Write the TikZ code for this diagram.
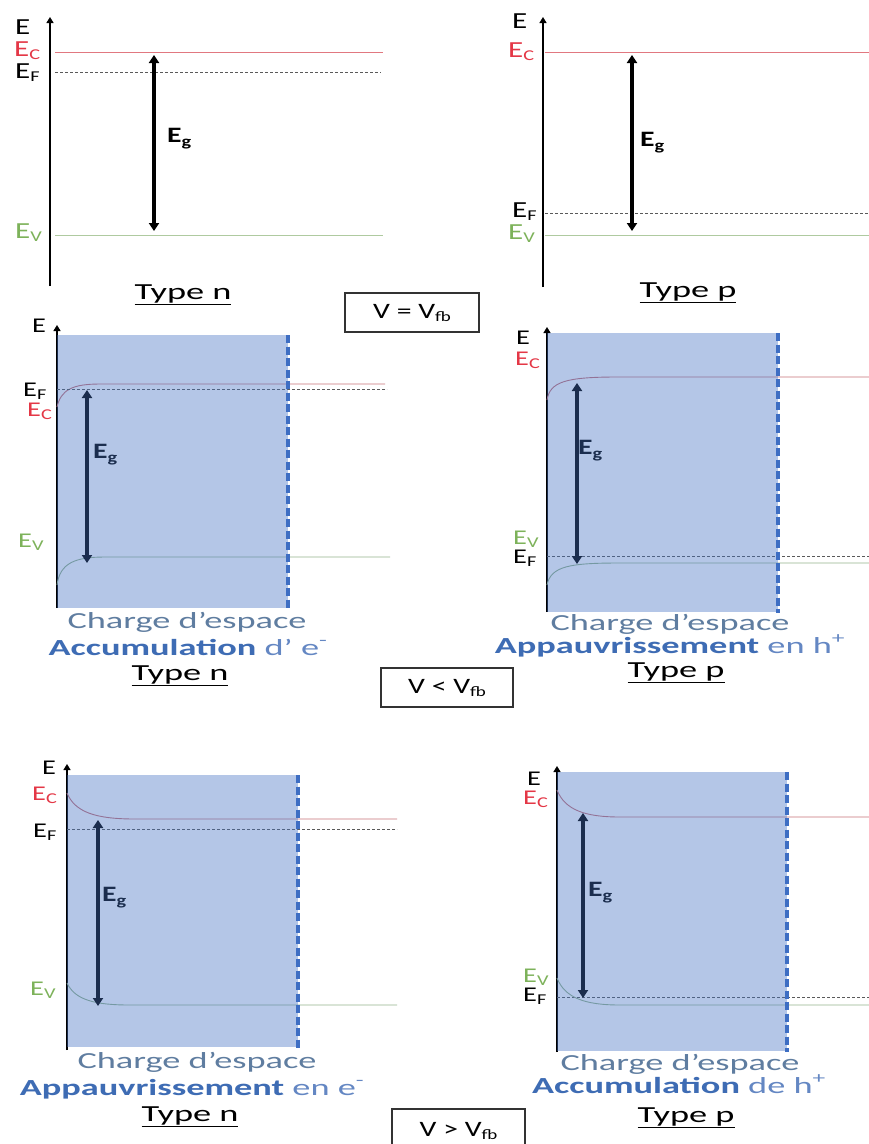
\documentclass[tikz,border=0pt]{standalone}
\usepackage{fontspec}
\usepackage{graphicx}
\setmainfont{Carlito}[FakeStretch=1.35]
\newfontfamily\wide{Carlito}[FakeStretch=1.58]
\usetikzlibrary{arrows.meta}
\definecolor{ecc}{RGB}{228,55,70}
\definecolor{evc}{RGB}{125,178,90}
\definecolor{eclinetop}{RGB}{225,120,128}
\definecolor{evlinetop}{RGB}{175,202,160}
\definecolor{ecline}{RGB}{200,115,120}
\definecolor{evline}{RGB}{150,180,140}
\definecolor{scblue}{RGB}{68,114,196}
\definecolor{dashblue}{RGB}{62,110,195}
\definecolor{txtgrey}{RGB}{95,125,160}
\definecolor{txtblue}{RGB}{62,108,180}
\definecolor{txtlight}{RGB}{100,135,195}
\newcommand\ls[1]{\raisebox{-3pt}{\fontsize{15}{15}\selectfont #1}}
\newcommand\eg{{\bfseries E\raisebox{-4pt}{\fontsize{15}{15}\selectfont g}}}
\newcommand\vfb{V\raisebox{-3pt}{\fontsize{14}{14}\selectfont fb}}
\tikzset{
  axisline/.style={line width=1.3pt, -{Triangle[length=6pt,width=7pt]}},
  ectop/.style={draw=eclinetop, line width=0.9pt},
  evtop/.style={draw=evlinetop, line width=0.9pt},
  ecband/.style={draw=ecline, line width=0.9pt},
  evband/.style={draw=evline, line width=0.9pt},
  efline/.style={draw=black!65, line width=0.8pt, dash pattern=on 3pt off 2pt},
  gaparrow/.style={line width=3.2pt, {Triangle[length=8pt,width=10pt]}-{Triangle[length=8pt,width=10pt]}},
  scarea/.style={fill=scblue, fill opacity=0.4, draw=none},
  scedge/.style={draw=dashblue, line width=3.2pt, dash pattern=on 8pt off 3.5pt},
  lab/.style={inner sep=0, anchor=base west, font=\fontsize{21}{21}\selectfont},
  toplab/.style={lab, font=\fontsize{23}{23}\selectfont},
  egl/.style={inner sep=0, anchor=base west, font=\fontsize{22}{22}\selectfont},
  txt/.style={inner sep=0, anchor=base, font=\wide\fontsize{23}{23}\selectfont},
  vbox/.style={draw=black!80, line width=1.3pt, inner sep=0, font=\fontsize{22}{22}\selectfont}
}
\begin{document}
\begin{tikzpicture}[x=1pt,y=-1pt]
\clip (0,0) rectangle (869,1144);
\fill[white] (0,0) rectangle (869,1144);

% ---------- Panel 1 : Type n, V = Vfb ----------
\coordinate (p1ax0) at (50,286); \coordinate (p1ax1) at (50,17);
\draw[axisline] (p1ax0) -- (p1ax1);
\coordinate (p1c0) at (55,52); \coordinate (p1c1) at (383,52);
\coordinate (p1f0) at (55,72); \coordinate (p1f1) at (381,72);
\coordinate (p1v0) at (55,235); \coordinate (p1v1) at (383,235);
\draw[ectop] (p1c0) -- (p1c1);
\draw[efline] (p1f0) -- (p1f1);
\draw[evtop] (p1v0) -- (p1v1);
\coordinate (p1g0) at (154,55); \coordinate (p1g1) at (154,231);
\draw[gaparrow] (p1g0) -- (p1g1);
\node[toplab] (p1E) at (15,34) {E};
\node[toplab, text=ecc] (p1Ec) at (14,56) {E\ls{C}};
\node[toplab] (p1Ef) at (15,78) {E\ls{F}};
\node[toplab, text=evc] (p1Ev) at (15,238) {E\ls{V}};
\node[egl] (p1Eg) at (167,142) {\eg};
\node[txt] (p1T) at (183,299) {\underline{Type n}};

% ---------- Panel 2 : Type p, V = Vfb ----------
\coordinate (p2ax0) at (543,287); \coordinate (p2ax1) at (543,17);
\draw[axisline] (p2ax0) -- (p2ax1);
\coordinate (p2c0) at (545,52); \coordinate (p2c1) at (869,52);
\coordinate (p2f0) at (545,213); \coordinate (p2f1) at (869,213);
\coordinate (p2v0) at (545,235); \coordinate (p2v1) at (869,235);
\draw[ectop] (p2c0) -- (p2c1);
\draw[efline] (p2f0) -- (p2f1);
\draw[evtop] (p2v0) -- (p2v1);
\coordinate (p2g0) at (632,55); \coordinate (p2g1) at (632,231);
\draw[gaparrow] (p2g0) -- (p2g1);
\node[toplab] (p2E) at (512,28) {E};
\node[toplab, text=ecc] (p2Ec) at (508,57) {E\ls{C}};
\node[toplab] (p2Ef) at (512,217) {E\ls{F}};
\node[toplab, text=evc] (p2Ev) at (508,239) {E\ls{V}};
\node[egl] (p2Eg) at (640,146) {\eg};
\node[txt] (p2T) at (688,297) {\underline{Type p}};

\node[vbox, minimum width=134pt, minimum height=39pt] (box1) at (412,312.5) {V = \vfb};

% ---------- Panel 3 : Type n, V < Vfb ----------
\coordinate (p3ax0) at (57,608); \coordinate (p3ax1) at (57,325);
\draw[axisline] (p3ax0) -- (p3ax1);
\coordinate (p3c0) at (57,407); \coordinate (p3cm) at (100,384); \coordinate (p3c1) at (385,384);
\coordinate (p3f0) at (57,389); \coordinate (p3f1) at (387,389);
\coordinate (p3v0) at (57,585); \coordinate (p3vm) at (105,557); \coordinate (p3v1) at (390,557);
\draw[ecband] (p3c0) .. controls (61,390) and (72,384) .. (p3cm) -- (p3c1);
\draw[efline] (p3f0) -- (p3f1);
\draw[evband] (p3v0) .. controls (60,563) and (75,557) .. (p3vm) -- (p3v1);
\coordinate (p3g0) at (87,390); \coordinate (p3g1) at (87,563);
\draw[gaparrow] (p3g0) -- (p3g1);
\node[egl] (p3Eg) at (93,458) {\eg};
\fill[scarea] (57,335) rectangle (288,608);
\draw[scedge] (288,335) -- (288,610);
\node[lab] (p3E) at (32,332) {E};
\node[lab] (p3Ef) at (23,396) {E\ls{F}};
\node[lab, text=ecc] (p3Ec) at (27,416) {E\ls{C}};
\node[lab, text=evc] (p3Ev) at (18,547) {E\ls{V}};
\node[txt, text=txtgrey] (p3cs) at (187,628) {Charge d’espace};
\node[txt] (p3ac) at (188,655) {{\bfseries\color{txtblue}Accumulation} {\color{txtlight}d’ e\textsuperscript{-}}};
\node[txt] (p3T) at (180,680) {\underline{Type n}};

\node[vbox, minimum width=132pt, minimum height=39pt] (box2) at (447,687.5) {V < \vfb};

% ---------- Panel 4 : Type p, V < Vfb ----------
\coordinate (p4ax0) at (547,612); \coordinate (p4ax1) at (547,327);
\draw[axisline] (p4ax0) -- (p4ax1);
\coordinate (p4c0) at (547,400); \coordinate (p4cm) at (617,377); \coordinate (p4c1) at (869,377);
\coordinate (p4f0) at (547,556); \coordinate (p4f1) at (869,556);
\coordinate (p4v0) at (547,585); \coordinate (p4vm) at (620,563); \coordinate (p4v1) at (869,563);
\draw[ecband] (p4c0) .. controls (550,382) and (565,377) .. (p4cm) -- (p4c1);
\draw[efline] (p4f0) -- (p4f1);
\draw[evband] (p4v0) .. controls (551,566) and (570,563) .. (p4vm) -- (p4v1);
\coordinate (p4g0) at (577,383); \coordinate (p4g1) at (577,564);
\draw[gaparrow] (p4g0) -- (p4g1);
\node[egl] (p4Eg) at (578,454) {\eg};
\fill[scarea] (547,333) rectangle (778,612);
\draw[scedge] (778,333) -- (778,613);
\node[lab] (p4E) at (516,344) {E};
\node[lab, text=ecc] (p4Ec) at (515,365) {E\ls{C}};
\node[lab, text=evc] (p4Ev) at (513,544) {E\ls{V}};
\node[lab] (p4Ef) at (513,563) {E\ls{F}};
\node[txt, text=txtgrey] (p4cs) at (670,630) {Charge d’espace};
\node[txt] (p4ap) at (670,653) {{\bfseries\color{txtblue}Appauvrissement} {\color{txtlight}en h\textsuperscript{+}}};
\node[txt] (p4T) at (676,677) {\underline{Type p}};

% ---------- Panel 5 : Type n, V > Vfb ----------
\coordinate (p5ax0) at (67,1050); \coordinate (p5ax1) at (67,764);
\draw[axisline] (p5ax0) -- (p5ax1);
\coordinate (p5c0) at (67,793); \coordinate (p5cm) at (135,819); \coordinate (p5c1) at (397,819);
\coordinate (p5f0) at (67,829); \coordinate (p5f1) at (397,829);
\coordinate (p5v0) at (67,983); \coordinate (p5vm) at (130,1005); \coordinate (p5v1) at (397,1005);
\draw[ecband] (p5c0) .. controls (75,812) and (95,819) .. (p5cm) -- (p5c1);
\draw[efline] (p5f0) -- (p5f1);
\draw[evband] (p5v0) .. controls (75,1000) and (95,1005) .. (p5vm) -- (p5v1);
\coordinate (p5g0) at (98,820); \coordinate (p5g1) at (98,1006);
\draw[gaparrow] (p5g0) -- (p5g1);
\node[egl] (p5Eg) at (102,901) {\eg};
\fill[scarea] (67,775) rectangle (298,1047);
\draw[scedge] (298,775) -- (298,1049);
\node[lab] (p5E) at (42,774) {E};
\node[lab, text=ecc] (p5Ec) at (32,800) {E\ls{C}};
\node[lab] (p5Ef) at (33,837) {E\ls{F}};
\node[lab, text=evc] (p5Ev) at (30,995) {E\ls{V}};
\node[txt, text=txtgrey] (p5cs) at (197,1068) {Charge d’espace};
\node[txt] (p5ap) at (192,1095) {{\bfseries\color{txtblue}Appauvrissement} {\color{txtlight}en e\textsuperscript{-}}};
\node[txt] (p5T) at (190,1121) {\underline{Type n}};

\node[vbox, minimum width=133pt, minimum height=44pt] (box3) at (458.5,1131) {V > \vfb};

% ---------- Panel 6 : Type p, V > Vfb ----------
\coordinate (p6ax0) at (557,1052); \coordinate (p6ax1) at (557,766);
\draw[axisline] (p6ax0) -- (p6ax1);
\coordinate (p6c0) at (557,790); \coordinate (p6cm) at (620,817); \coordinate (p6c1) at (869,817);
\coordinate (p6f0) at (557,997); \coordinate (p6f1) at (869,997);
\coordinate (p6v0) at (557,978); \coordinate (p6vm) at (620,1005); \coordinate (p6v1) at (869,1005);
\draw[ecband] (p6c0) .. controls (565,810) and (585,817) .. (p6cm) -- (p6c1);
\draw[efline] (p6f0) -- (p6f1);
\draw[evband] (p6v0) .. controls (565,998) and (585,1005) .. (p6vm) -- (p6v1);
\coordinate (p6g0) at (583,813); \coordinate (p6g1) at (583,998);
\draw[gaparrow] (p6g0) -- (p6g1);
\node[egl] (p6Eg) at (588,896) {\eg};
\fill[scarea] (557,772) rectangle (787,1051);
\draw[scedge] (787,772) -- (787,1052);
\node[lab] (p6E) at (527,785) {E};
\node[lab, text=ecc] (p6Ec) at (523,804) {E\ls{C}};
\node[lab, text=evc] (p6Ev) at (523,982) {E\ls{V}};
\node[lab] (p6Ef) at (523,1001) {E\ls{F}};
\node[txt, text=txtgrey] (p6cs) at (680,1070) {Charge d’espace};
\node[txt] (p6ac) at (679,1093) {{\bfseries\color{txtblue}Accumulation} {\color{txtlight}de h\textsuperscript{+}}};
\node[txt] (p6T) at (686,1122) {\underline{Type p}};
\end{tikzpicture}
\end{document}
